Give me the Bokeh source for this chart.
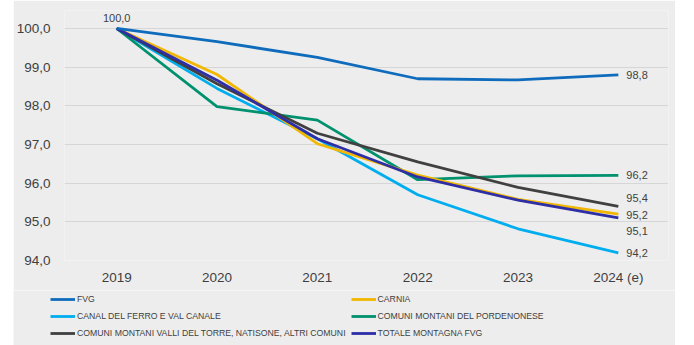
from bokeh.plotting import figure
from bokeh.layouts import column
from bokeh.models import ColumnDataSource, FixedTicker, Legend, LegendItem, Range1d
from bokeh.core.properties import value
from bokeh.embed import file_html
from bokeh.resources import INLINE

# Population index (2019 = 100)
years = ["2019", "2020", "2021", "2022", "2023", "2024 (e)"]
fvg = [100.0, 99.66, 99.25, 98.70, 98.67, 98.8]
carnia = [100.0, 98.81, 97.02, 96.21, 95.58, 95.2]
canal = [100.0, 98.45, 97.15, 95.70, 94.82, 94.2]
pordenonese = [100.0, 97.98, 97.63, 96.09, 96.19, 96.2]
torre = [100.0, 98.57, 97.29, 96.55, 95.89, 95.4]
totale = [100.0, 98.66, 97.15, 96.16, 95.56, 95.1]

series_names = [
    "FVG",
    "CARNIA",
    "CANAL DEL FERRO E VAL CANALE",
    "COMUNI MONTANI DEL PORDENONESE",
    "COMUNI MONTANI VALLI DEL TORRE, NATISONE, ALTRI COMUNI",
    "TOTALE MONTAGNA FVG",
]
series_values = [fvg, carnia, canal, pordenonese, torre, totale]
series_colors = ["#0F6CBD", "#F2B700", "#00AEEF", "#00916E", "#404040", "#2E2EA6"]
# vertical nudges (px) for the end-of-line value labels
end_label_shift = [0, 1, 0, 0, -8, 13]
draw_order = [2, 3, 1, 4, 5, 0]

FONT = "Liberation Sans"
TXT = "#3F3F3F"
BG = "#EDEDED"
LINE_W = 2.8

xs = list(range(len(years)))

p = figure(
    width=662, height=290,
    output_backend="svg", toolbar_location=None,
    x_range=Range1d(-0.52, 5.5), y_range=Range1d(94.0, 100.465),
    min_border_left=50, min_border_right=7, min_border_top=10, min_border_bottom=30,
    background_fill_color=BG, border_fill_color=BG, outline_line_color=None,
)

for i in draw_order:
    p.line(xs, series_values[i], line_color=series_colors[i], line_width=LINE_W)

# axes
p.xaxis.ticker = FixedTicker(ticks=xs)
p.xaxis.major_label_overrides = {i: y for i, y in enumerate(years)}
p.yaxis.ticker = FixedTicker(ticks=[94, 95, 96, 97, 98, 99, 100])
p.yaxis.major_label_overrides = {v: f"{v:.1f}".replace(".", ",") for v in range(94, 101)}
for ax in (p.xaxis[0], p.yaxis[0]):
    ax.axis_line_color = None
    ax.major_tick_line_color = None
    ax.minor_tick_line_color = None
    ax.major_label_text_font = FONT
    ax.major_label_text_font_size = "13.5px"
    ax.major_label_text_color = TXT
p.xaxis.major_label_standoff = 3
p.yaxis.major_label_standoff = 8

p.xgrid.grid_line_color = None
p.ygrid.grid_line_color = "#D6D6D6"
p.ygrid.grid_line_width = 1.2

# value labels
end_src = ColumnDataSource(dict(
    x=[xs[-1]] * len(series_values),
    y=[v[-1] for v in series_values],
    t=[f"{v[-1]:.1f}".replace(".", ",") for v in series_values],
    dy=end_label_shift,
))
p.text(x="x", y="y", text="t", source=end_src, x_offset=8, y_offset="dy",
       text_align="left", text_baseline="middle", text_font=value(FONT),
       text_font_size="11px", text_color=TXT)

start_src = ColumnDataSource(dict(x=[xs[0]], y=[fvg[0]], t=[f"{fvg[0]:.1f}".replace(".", ",")]))
p.text(x="x", y="y", text="t", source=start_src, y_offset=-10,
       text_align="center", text_baseline="middle", text_font=value(FONT),
       text_font_size="11px", text_color=TXT)

# legend strip below the chart: same series, ranges keep the lines out of view
lg = figure(
    width=662, height=55,
    output_backend="svg", toolbar_location=None,
    x_range=Range1d(0, 1), y_range=Range1d(0, 1),
    x_axis_type=None, y_axis_type=None,
    min_border_left=0, min_border_right=0, min_border_top=0, min_border_bottom=0,
    background_fill_color=BG, border_fill_color=BG, outline_line_color=None,
)
if "frame_align" in lg.properties():
    lg.frame_align = False
lg.xgrid.visible = False
lg.ygrid.visible = False
keys = [lg.line(xs, vals, line_color=c, line_width=LINE_W)
        for vals, c in zip(series_values, series_colors)]

legend = Legend(
    items=[LegendItem(label=n, renderers=[k]) for n, k in zip(series_names, keys)],
    location=(37, 6), orientation="horizontal", ncols=2,
    background_fill_alpha=0, border_line_color=None, padding=0, margin=0,
    glyph_width=25, glyph_height=12, label_height=12, label_standoff=2, spacing=5,
    label_text_font=FONT, label_text_font_size="8.7px", label_text_color=TXT,
)
lg.add_layout(legend, "center")

layout = column(p, lg, spacing=0, margin=(0, 0, 0, 13))

open("out.html", "w").write(file_html(layout, INLINE))
